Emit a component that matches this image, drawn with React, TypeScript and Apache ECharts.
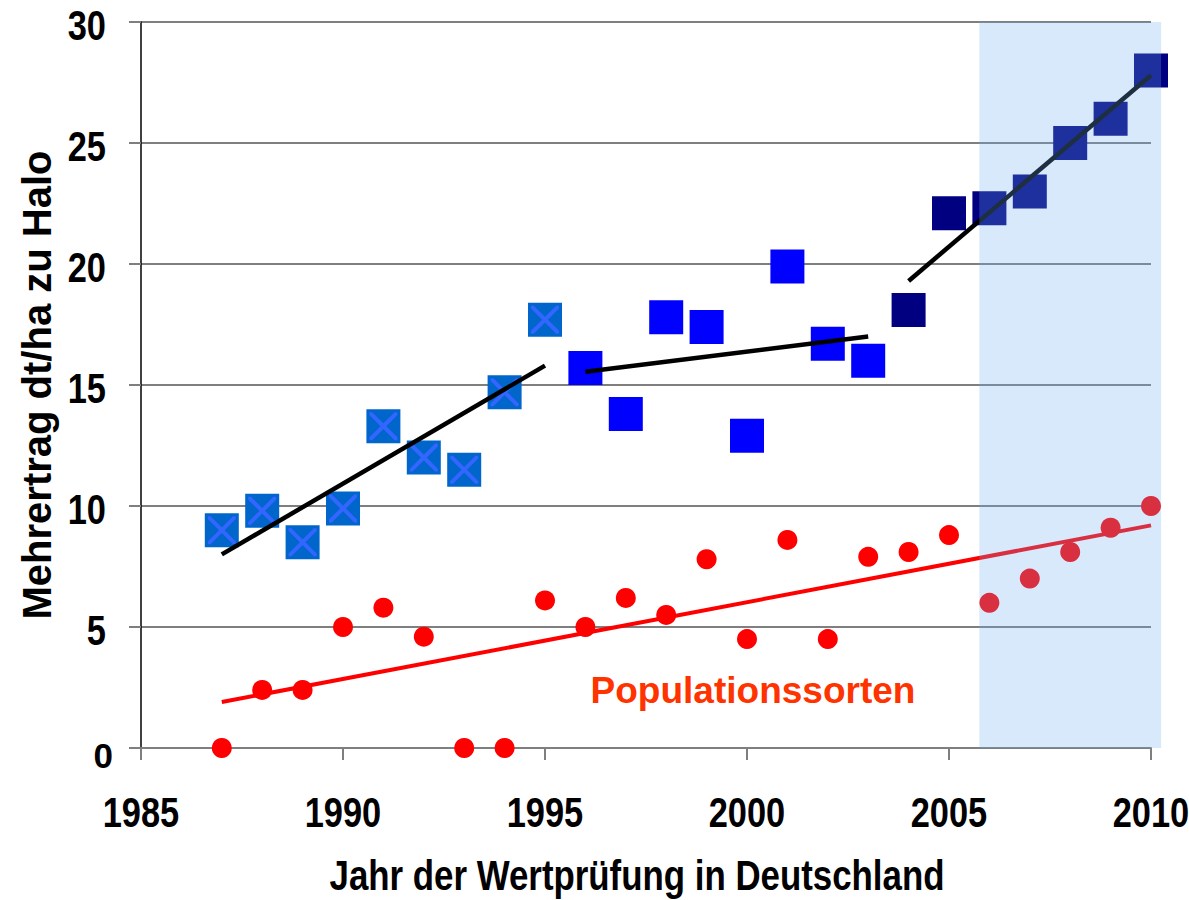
import React, { useEffect, useRef } from "react";
import * as echarts from "echarts";

// ---- data ----
const years = [1987, 1988, 1989, 1990, 1991, 1992, 1993, 1994, 1995, 1996, 1997, 1998, 1999, 2000, 2001, 2002, 2003, 2004, 2005, 2006, 2007, 2008, 2009, 2010];
const squareValues = [9.0, 9.8, 8.5, 9.9, 13.3, 12.0, 11.5, 14.7, 17.7, 15.7, 13.8, 17.8, 17.4, 12.9, 19.9, 16.7, 16.0, 18.1, 22.1, 22.3, 23.0, 25.0, 26.0, 28.0];
const popValues = [0, 2.4, 2.4, 5.0, 5.8, 4.6, 0, 0, 6.1, 5.0, 6.2, 5.5, 7.8, 4.5, 8.6, 4.5, 7.9, 8.1, 8.8, 6.0, 7.0, 8.1, 9.1, 10.0];
const periodOldEnd = 1995;
const periodMidEnd = 2003;
const trendOld = [[1987, 8.0], [1995, 15.8]];
const trendMid = [[1996, 15.55], [2003, 17.0]];
const trendNew = [[2004, 19.3], [2010, 27.8]];
const trendPop = [[1987, 1.9], [2010, 9.2]];
const shadedRange = [2005.75, 2010.25];
const xTickLabels = [1985, 1990, 1995, 2000, 2005, 2010];
const yTickLabels = [0, 5, 10, 15, 20, 25, 30];
const labelPop = "Populationssorten";
const xTitle = "Jahr der Wertprüfung in Deutschland";
const yTitle = "Mehrertrag dt/ha zu Halo";

const SANS = "'Liberation Sans', Arial, sans-serif";

const pts = (filter: (y: number) => boolean, vals: number[]) =>
  years.map((y, i) => [y, vals[i]]).filter((p) => filter(p[0]));

const CROSS = "path://M0,0 L10,0 L100,90 L100,100 L90,100 L0,10 Z M100,0 L100,10 L10,100 L0,100 L0,90 L90,0 Z";

export default function App() {
  const ref = useRef<HTMLDivElement>(null);
  useEffect(() => {
    if (!ref.current) return;
    const chart = echarts.init(ref.current, null, { renderer: "svg" });
    const oldPts = pts((y) => y <= periodOldEnd, squareValues);
    const midPts = pts((y) => y > periodOldEnd && y <= periodMidEnd, squareValues);
    const newPts = pts((y) => y > periodMidEnd, squareValues);
    const popPts = pts(() => true, popValues);
    const trendLine = (data: number[][], color: string, width: number) => ({
      type: "line",
      data,
      showSymbol: false,
      symbol: "none",
      silent: true,
      z: 3,
      lineStyle: { color, width, cap: "butt" },
    });
    const square = (data: number[][], color: string) => ({
      type: "scatter",
      data,
      symbol: "rect",
      symbolSize: 34,
      z: 2,
      itemStyle: { color, opacity: 1 },
    });
    chart.setOption({
      animation: false,
      backgroundColor: "#ffffff",
      grid: { left: 141, right: 38, top: 22, bottom: 152, outerBoundsMode: "none", containLabel: false },
      xAxis: {
        type: "value",
        min: xTickLabels[0],
        max: xTickLabels[xTickLabels.length - 1],
        interval: 5,
        axisLine: { show: true, lineStyle: { color: "#7f7f7f", width: 2 } },
        axisTick: { show: true, length: 12, lineStyle: { color: "#7f7f7f", width: 2 } },
        axisLabel: { show: false },
        splitLine: { show: false },
      },
      yAxis: {
        type: "value",
        min: yTickLabels[0],
        max: yTickLabels[yTickLabels.length - 1],
        interval: 5,
        name: yTitle,
        nameLocation: "middle",
        nameGap: 84,
        nameTextStyle: { fontFamily: SANS, fontWeight: "bold", fontSize: 40, color: "#000" },
        axisLine: { show: true, lineStyle: { color: "#000", width: 1.5 } },
        axisTick: { show: true, length: 12, lineStyle: { color: "#7f7f7f", width: 2 } },
        axisLabel: { show: false },
        splitLine: { show: true, lineStyle: { color: "#7f7f7f", width: 2 } },
      },
      series: [
        trendLine(trendPop, "#ff0000", 4),
        {
          type: "scatter",
          data: popPts,
          symbol: "circle",
          symbolSize: 20,
          z: 4,
          itemStyle: { color: "#ff0000", opacity: 1 },
        },
        square(oldPts, "#0066cc"),
        {
          type: "scatter",
          data: oldPts,
          symbol: CROSS,
          symbolSize: 28,
          z: 2,
          silent: true,
          itemStyle: { color: "#3366ff", opacity: 1 },
        },
        square(midPts, "#0000ff"),
        square(newPts, "#000080"),
        trendLine(trendOld, "#000000", 4.5),
        trendLine(trendMid, "#000000", 4.5),
        trendLine(trendNew, "#000000", 4.5),
      ],
    });

    const xPx = (v: number) => chart.convertToPixel({ xAxisIndex: 0 }, v) as number;
    const yPx = (v: number) => chart.convertToPixel({ yAxisIndex: 0 }, v) as number;
    const axisY = yPx(yTickLabels[0]);
    const topY = yPx(yTickLabels[yTickLabels.length - 1]);
    const left = xPx(xTickLabels[0]);
    const right = xPx(xTickLabels[xTickLabels.length - 1]);
    const narrowText = (text: string, x: number, y: number, align: string, size: number, sx: number) => ({
      type: "text",
      x,
      y,
      scaleX: sx,
      z: 20,
      silent: true,
      style: {
        text,
        fill: "#000",
        font: `bold ${size}px ${SANS}`,
        textAlign: align,
        textVerticalAlign: "middle",
      },
    });
    const graphics: any[] = [];
    const shadeX0 = xPx(shadedRange[0]);
    const shadeX1 = xPx(shadedRange[1]);
    graphics.push({
      type: "rect",
      z: 10,
      silent: true,
      shape: { x: shadeX0, y: topY, width: shadeX1 - shadeX0, height: axisY - topY },
      style: { fill: "rgba(110,175,240,0.27)" },
    });
    xTickLabels.forEach((v) => graphics.push(narrowText(String(v), xPx(v), axisY + 64, "center", 43, 0.8)));
    yTickLabels.forEach((v) => {
      if (v === 0) graphics.push(narrowText(String(v), left - 28, yPx(v) + 7, "right", 35, 1));
      else graphics.push(narrowText(String(v), left - 35, yPx(v) + 3, "right", 43, 0.8));
    });
    graphics.push(narrowText(xTitle, (left + right) / 2 - 9, axisY + 127, "center", 42, 0.83));
    graphics.push({
      type: "text",
      x: 753,
      y: 690,
      z: 20,
      silent: true,
      style: {
        text: labelPop,
        fill: "#ff3300",
        font: `bold 37px ${SANS}`,
        textAlign: "center",
        textVerticalAlign: "middle",
      },
    });
    chart.setOption({ graphic: graphics });
    return () => chart.dispose();
  }, []);
  return <div ref={ref} style={{ position: "fixed", left: 0, top: 0, width: 1189, height: 900 }} />;
}
